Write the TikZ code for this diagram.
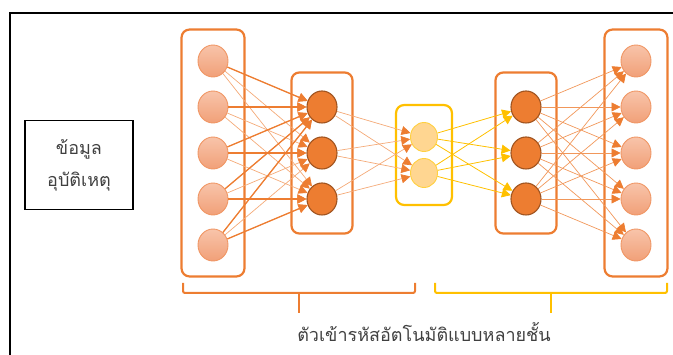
\documentclass[tikz,border=0pt]{standalone}
\usepackage{fontspec}
\newfontfamily\thaifont[Script=Thai]{Loma}
\usetikzlibrary{
    arrows.meta,
    positioning,
    fit,
    backgrounds,
    shapes.geometric
}

\definecolor{netorange}{RGB}{237,125,49}
\definecolor{paleorange}{RGB}{244,170,120}
\definecolor{rimorange}{RGB}{240,150,100}
\definecolor{lighttop}{RGB}{248,196,170}
\definecolor{lightbottom}{RGB}{241,160,120}
\definecolor{hiddenrim}{RGB}{160,84,32}
\definecolor{gold}{RGB}{255,192,0}
\definecolor{codefill}{RGB}{255,214,145}
\definecolor{textgray}{RGB}{64,64,64}

\begin{document}
\begin{tikzpicture}[
    x=1pt, y=-1pt,
    every node/.style={
        font=\thaifont\fontsize{18pt}{32pt}\selectfont,
        text=textgray
    },
    unit/.style={
        ellipse,
        minimum width=30pt,
        minimum height=32pt,
        inner sep=0pt
    },
    outerunit/.style={
        unit,
        draw=rimorange,
        line width=0.9pt,
        top color=lighttop,
        bottom color=lightbottom
    },
    hiddenunit/.style={
        unit,
        draw=hiddenrim,
        line width=1.1pt,
        fill=netorange
    },
    codeunit/.style={
        unit,
        minimum width=27pt,
        minimum height=29pt,
        draw=gold!75,
        line width=0.9pt,
        fill=codefill
    },
    layerbox/.style={
        rectangle,
        rounded corners=8pt,
        draw=netorange,
        line width=2.2pt,
        inner sep=0pt
    },
    databox/.style={
        rectangle,
        draw=black,
        line width=1.2pt,
        minimum width=108pt,
        minimum height=89pt,
        align=center
    },
    strong/.style={
        -{Triangle[length=9pt,width=9pt]},
        line width=1.3pt,
        draw=netorange
    },
    weak/.style={
        -{Triangle[length=9pt,width=9pt,color=netorange]},
        line width=0.7pt,
        draw=paleorange
    },
    goldlink/.style={
        -{Triangle[length=9pt,width=9pt]},
        line width=0.8pt,
        draw=gold
    },
    brace/.style={
        line width=2pt,
        rounded corners=2pt
    }
]

\useasboundingbox (0,0) rectangle (673,355);

% ==========================================================
% Frame and source data
% ==========================================================
\draw[line width=2pt] (673,13) -- (10,13) -- (10,355);

\node[databox] (data) at (79,165) {ข้อมูล\\อุบัติเหตุ};

% ==========================================================
% Units
% ==========================================================
\foreach \i/\y in {1/61,2/107,3/153,4/199,5/245} {
    \node[outerunit] (in\i) at (213,\y) {};
    \node[outerunit] (out\i) at (636,\y) {};
}

\foreach \i/\y in {1/107,2/153,3/199} {
    \node[hiddenunit] (enc\i) at (322,\y) {};
    \node[hiddenunit] (dec\i) at (526,\y) {};
}

\node[codeunit] (code1) at (424,137) {};
\node[codeunit] (code2) at (424,173) {};

% ==========================================================
% Layer frames
% ==========================================================
\begin{scope}[on background layer]

\node[layerbox, fit=(in1)(in5), inner xsep=16pt, inner ysep=15pt] (inbox) {};
\node[layerbox, fit=(enc1)(enc3), inner xsep=15pt, inner ysep=18pt] (encbox) {};
\node[layerbox, draw=gold, fit=(code1)(code2), inner xsep=14pt, inner ysep=17pt] (codebox) {};
\node[layerbox, fit=(dec1)(dec3), inner xsep=15pt, inner ysep=18pt] (decbox) {};
\node[layerbox, fit=(out1)(out5), inner xsep=16pt, inner ysep=15pt] (outbox) {};

\end{scope}

% ==========================================================
% Connections
% ==========================================================
\foreach \i in {1,...,5}
    \foreach \j in {1,2,3}
        \draw[weak] (in\i) -- (enc\j);

\foreach \i in {1,...,5}
    \draw[strong] (in\i) -- (enc1);
\draw[strong] (in3) -- (enc2);
\draw[strong] (in4) -- (enc3);
\draw[strong] (in5) -- (enc3);

\foreach \i in {1,2,3}
    \foreach \j in {1,2}
        \draw[weak] (enc\i) -- (code\j);

\foreach \i in {1,2}
    \foreach \j in {1,2,3}
        \draw[goldlink] (code\i) -- (dec\j);

\foreach \i in {1,2,3}
    \foreach \j in {1,...,5}
        \draw[weak, draw=netorange!80] (dec\i) -- (out\j);

% ==========================================================
% Braces and caption
% ==========================================================
\draw[brace, netorange] (183,283) -- (183,293) -- (415,293) -- (415,283);
\draw[line width=2pt, netorange] (299,293) -- (299,313);

\draw[brace, gold] (435,283) -- (435,293) -- (667,293) -- (667,283);
\draw[line width=2pt, gold] (551,293) -- (551,313);

\node (caption) at (424,332) {ตัวเข้ารหัสอัตโนมัติแบบหลายชั้น};

\end{tikzpicture}
\end{document}
